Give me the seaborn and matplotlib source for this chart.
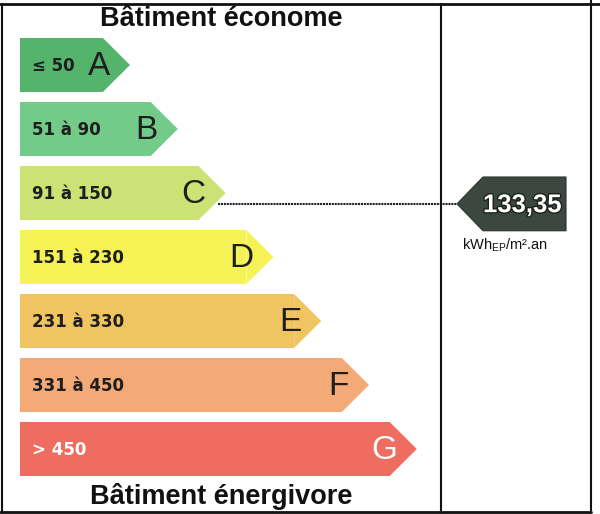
import matplotlib
matplotlib.use("Agg")
import matplotlib.pyplot as plt
import matplotlib.patheffects as pe
from matplotlib.lines import Line2D
import seaborn as sns

# Data
classes = ['A', 'B', 'C', 'D', 'E', 'F', 'G']
ranges = ['≤ 50', '51 à 90', '91 à 150', '151 à 230', '231 à 330', '331 à 450', '> 450']
bounds = [50, 90, 150, 230, 330, 450]
colors = ['#55b46c', '#72cb89', '#cde275', '#f5f256', '#f1c462', '#f3aa76', '#ee6c60']
value = 133.35
value_text = '133,35'
unit_text = r'kWh$_{\mathregular{EP}}$/m².an'
title_top = 'Bâtiment économe'
title_bottom = 'Bâtiment énergivore'

W, H = 600, 514
X0 = 20          # left edge of arrows (px)
TIP0 = 130       # tip of first arrow (px)
STEP = 47.8      # extra length per class (px)
ROW0, ROWH = 65, 64   # centre of first row, row pitch (px)
BAR_H = 0.84
TIP = 27

tips = [TIP0 + STEP * i for i in range(len(classes))]
bodies = [t - TIP - X0 for t in tips]

sns.set_theme(style='white')
plt.rcParams['font.family'] = ['DejaVu Sans']

fig = plt.figure(figsize=(W / 100, H / 100), dpi=100)
ax = fig.add_axes([0, 0, 1, 1])

sns.barplot(x=bodies, y=classes, hue=classes, palette=colors, legend=False,
            orient='h', width=BAR_H, ax=ax, linewidth=0, saturation=1)

for i, (b, c) in enumerate(zip(bodies, colors)):
    ax.fill([b, b + TIP, b], [i - BAR_H / 2, i, i + BAR_H / 2], color=c, lw=0)
    txt_col = 'white' if classes[i] == 'G' else '#1e1e1e'
    ax.text(12, i + 0.02, ranges[i], ha='left', va='center', fontsize=12,
            fontweight='bold', color=txt_col, family='DejaVu Sans')
    ax.text(b + TIP - 20, i + 0.03, classes[i], ha='right', va='center',
            fontsize=24, color=txt_col, family='Liberation Sans')

# Value arrow, placed on the row of its class
cls = sum(value > b for b in bounds)
vy = cls + 0.17
vtip = 457 - X0
vbody = vtip + 26
vend = 566 - X0
ax.fill([vtip, vbody, vend, vend, vbody], [vy, vy - 0.42, vy - 0.42, vy + 0.42, vy + 0.42],
        color='#3c4740', ec='#2a322c', lw=0.8, zorder=3)
ax.text((vbody + vend) / 2 - 2, vy + 0.02, value_text, ha='center', va='center',
        fontsize=18.5, fontweight='bold', color='white', family='Liberation Sans', zorder=4,
        path_effects=[pe.withStroke(linewidth=2, foreground='#1c221d')])
ax.text(505 - X0, vy + 0.64, unit_text, ha='center', va='center',
        fontsize=10.5, color='#111111', family='Liberation Sans')
ax.plot([tips[cls] - X0 - 8, vtip], [vy, vy], ls=(0, (1, 0.4)), color='#222222', lw=1.5, zorder=2)

ax.set_xlim(-X0, W - X0)
ax.set_ylim((H - ROW0) / ROWH, -ROW0 / ROWH)
ax.axis('off')

# Titles and frame
fig.text(221 / W, 1 - 19 / H, title_top, ha='center', va='center', fontsize=19.5,
         fontweight='bold', family='Liberation Sans', color='#111111')
fig.text(221 / W, 1 - 496 / H, title_bottom, ha='center', va='center', fontsize=19.5,
         fontweight='bold', family='Liberation Sans', color='#111111')

def fline(x1, y1, x2, y2, lw=1.5):
    fig.add_artist(Line2D([x1 / W, x2 / W], [1 - y1 / H, 1 - y2 / H], color='#111111', lw=lw))

fline(0, 4, W, 4, 2)
fline(0, 512, 591, 512, 2)
fline(2, 4, 2, 512)
fline(441, 4, 441, 512)
fline(591, 0, 591, 512)

fig.savefig('out.png', dpi=100, facecolor='white')
